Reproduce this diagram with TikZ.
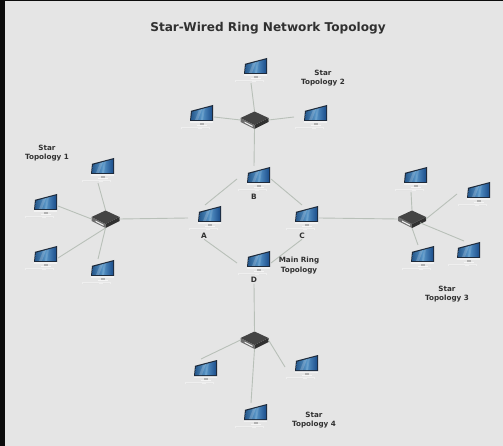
\documentclass[tikz,border=0pt]{standalone}
\usepackage{fontspec}
\setmainfont{DejaVu Sans}
\usetikzlibrary{shapes.geometric}
\definecolor{bgc}{RGB}{229,229,229}
\definecolor{barc}{RGB}{12,12,12}
\definecolor{linkc}{RGB}{184,192,184}
\definecolor{txtc}{RGB}{48,48,48}
\definecolor{hubtop}{RGB}{68,68,68}
\definecolor{hubside}{RGB}{48,48,48}
\definecolor{hubfront}{RGB}{110,110,110}
\definecolor{scrl}{RGB}{38,88,140}
\definecolor{scrm}{RGB}{88,150,200}
\definecolor{scrr}{RGB}{28,78,140}
\definecolor{scrf}{RGB}{30,42,58}
\tikzset{
  iconbox/.style={rectangle,minimum width=34pt,minimum height=26pt,inner sep=0pt,outer sep=0pt},
  hubbox/.style={diamond,minimum width=28pt,minimum height=18pt,inner sep=0pt,outer sep=0pt},
  lab/.style={font=\bfseries\fontsize{7.2}{9.6}\selectfont,text=txtc,align=center,inner sep=0pt},
  letter/.style={font=\bfseries\fontsize{7.4}{9}\selectfont,text=txtc,inner sep=1pt,outer sep=0pt},
  link/.style={draw=linkc,line width=0.9pt}
}
\newcommand{\iconat}[3]{%
  \node[iconbox] (#1) at (#2,#3) {};
  \begin{scope}[shift={(#2+5,#3-1)}]
    \fill[white!40!bgc] (-21,11.4) rectangle (8,13);
    \draw[gray!22,line width=0.2pt] (-20,12.2) -- (-4,12.2) (0,12.2) -- (7,12.2);
    \fill[gray!60] (-2,7) rectangle (2,9.5);
    \fill[white!60!bgc] (-5,9.2) rectangle (5,10);
    \fill[white!90!gray] (-12,4.5) -- (11,4.5) -- (11,7.2) -- (-12,7.2) -- cycle;
    \fill[scrf] (-11,-5.2) -- (11,-11) -- (11,5) -- (-12,5) -- cycle;
    \shade[left color=scrl,right color=scrr,middle color=scrm] (-10,-4.2) -- (10,-9.6) -- (10,4) -- (-11,4) -- cycle;
    \fill[white,opacity=0.18] (-3,-6) -- (0,-6.8) -- (-4,4) -- (-7,4) -- cycle;
    \fill[white,opacity=0.12] (1,-7.3) -- (3,-7.8) -- (1,4) -- (-1,4) -- cycle;
  \end{scope}}
\newcommand{\hubat}[3]{%
  \node[hubbox] (#1) at (#2,#3) {};
  \begin{scope}[shift={(#2,#3)}]
    \fill[hubfront] (-14,-2) -- (0,5) -- (0,9) -- (-14,2) -- cycle;
    \fill[white!85!gray] (-10,1.5) -- (-2,5.6) -- (-2,6.8) -- (-10,2.7) -- cycle;
    \fill[hubside] (0,5) -- (14,-2) -- (14,2) -- (0,9) -- cycle;
    \fill[hubtop] (-14,-2) -- (0,-8.5) -- (14,-2) -- (0,5) -- cycle;
  \end{scope}}
\begin{document}
\begin{tikzpicture}[x=1pt,y=-1pt]
\useasboundingbox (0,0) rectangle (503,446);
\fill[bgc] (0,0) rectangle (503,446);
\fill[barc] (0,0) rectangle (5,446);
\fill[barc] (0,0) rectangle (503,1);

\node[font=\bfseries\fontsize{12.1}{14}\selectfont,text=txtc,inner sep=0pt] (title) at (268,28) {Star-Wired Ring Network Topology};

% main ring
\iconat{A}{205}{218}
\iconat{B}{254}{179}
\iconat{C}{302}{218}
\iconat{D}{254}{263}
\node[letter] (la) at (204,235.5) {A};
\node[letter] (lb) at (254,197) {B};
\node[letter] (lc) at (302,235.5) {C};
\node[letter] (ld) at (254,280) {D};

% hubs
\hubat{hubone}{105.5}{219}
\hubat{hubtwo}{254.5}{120}
\hubat{hubthree}{412}{219}
\hubat{hubfour}{254.5}{340}

% star 1
\iconat{oa}{98}{170}
\iconat{ob}{41}{206}
\iconat{oc}{41}{258}
\iconat{od}{98}{272}
% star 2
\iconat{ta}{251}{70}
\iconat{tb}{197}{117}
\iconat{tc}{311}{117}
% star 3
\iconat{ra}{411}{179}
\iconat{rb}{474}{194}
\iconat{rc}{464}{254}
\iconat{rd}{418}{258}
% star 4
\iconat{fa}{201}{372}
\iconat{fb}{302}{367}
\iconat{fc}{251}{416}

% ring links
\draw[link] (A.north) -- (B.west);
\draw[link] (B.east) -- (C.north);
\draw[link] (lc.south) -- (D.east);
\draw[link] (la.south) -- (D.west);
% star 1 links
\draw[link] (hubone.north) -- (oa.south);
\draw[link] (hubone.west) -- (ob.east);
\draw[link] (hubone.south) -- (oc.east);
\draw[link] (hubone.south) -- (od.north);
\draw[link] (hubone.east) -- (A.west);
% star 2 links
\draw[link] (hubtwo.north) -- (ta.south);
\draw[link] (hubtwo.west) -- (tb.east);
\draw[link] (hubtwo.east) -- (tc.west);
\draw[link] (hubtwo.south) -- (B.north);
% star 3 links
\draw[link] (hubthree.north) -- (ra.south);
\draw[link] (hubthree.east) -- (rb.west);
\draw[link] (hubthree.-25) -- (rc.north);
\draw[link] (hubthree.south) -- (rd.north);
\draw[link] (hubthree.west) -- (C.east);
% star 4 links
\draw[link] (ld.south) -- (hubfour.north);
\draw[link] (hubfour.west) -- (fa.north);
\draw[link] (hubfour.east) -- (fb.west);
\draw[link] (hubfour.south) -- (fc.north);

% labels
\node[lab] (s1) at (47,153) {Star\\Topology 1};
\node[lab] (s2) at (323,78) {Star\\Topology 2};
\node[lab] (s3) at (447,294) {Star\\Topology 3};
\node[lab] (s4) at (314,420) {Star\\Topology 4};
\node[lab] (mr) at (299,265.5) {Main Ring\\Topology};
\end{tikzpicture}
\end{document}
